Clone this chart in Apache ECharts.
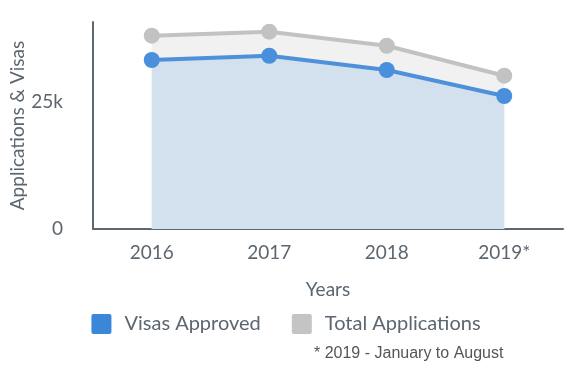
<!DOCTYPE html>
<html><head><meta charset="utf-8">
<script src="https://cdn.jsdelivr.net/npm/echarts@6/dist/echarts.min.js"></script>
<style>html,body{margin:0;padding:0;background:#fff}#c{width:572px;height:366px}</style>
</head><body><div id="c"></div>
<script>
const categories = ['2016', '2017', '2018', '2019*'];
const totalApplications = [38050, 38840, 36080, 30180];
const visasApproved = [33270, 34110, 31300, 26180];
const yTicks = [0, 25000];

const txt = '#5b6670';
const chart = echarts.init(document.getElementById('c'), null, {renderer: 'canvas'});
chart.setOption({
  animation: false,
  grid: {left: 93, right: 9, top: 22, bottom: 137, containLabel: false, outerBoundsMode: 'none'},
  legend: {
    data: [{name: 'Visas Approved', itemStyle: {color: '#3a86d8'}}, {name: 'Total Applications', itemStyle: {color: '#c4c4c4'}}],
    top: 309, left: 'center', icon: 'path://M2,0 H18 Q20,0 20,2 V18 Q20,20 18,20 H2 Q0,20 0,18 V2 Q0,0 2,0 Z',
    itemWidth: 20, itemHeight: 20, itemGap: 31,
    textStyle: {fontFamily: 'Lato', fontSize: 20, color: txt, padding: [0, 0, 0, 8]}
  },
  xAxis: {
    type: 'category', data: categories, boundaryGap: true,
    name: 'Years', nameLocation: 'middle', nameGap: 51, nameMoveOverlap: false,
    nameTextStyle: {fontFamily: 'Lato', fontSize: 19, color: txt},
    axisLine: {lineStyle: {color: '#5f676f', width: 2}},
    axisTick: {show: false},
    axisLabel: {fontFamily: 'Lato', fontSize: 19, color: txt, margin: 14}
  },
  yAxis: {
    type: 'value', min: 0, max: 40750, interval: 25000,
    name: 'Applications & Visas', nameLocation: 'middle', nameGap: 66, nameMoveOverlap: false,
    nameTextStyle: {fontFamily: 'Lato', fontSize: 19, color: txt},
    axisLine: {show: true, lineStyle: {color: '#5f676f', width: 2}},
    axisTick: {show: false},
    splitLine: {show: false},
    axisLabel: {fontFamily: 'Lato', fontSize: 19, color: txt, margin: 30, showMaxLabel: false,
      formatter: v => yTicks.includes(v) ? (v === 0 ? '0' : (v / 1000) + 'k') : ''}
  },
  series: [
    {name: 'Total Applications', type: 'line', data: totalApplications, symbol: 'circle', symbolSize: 16,
     lineStyle: {color: '#c2c2c2', width: 4}, itemStyle: {color: '#c2c2c2'},
     areaStyle: {color: '#f1f1f1', opacity: 1}, z: 2},
    {name: 'Visas Approved', type: 'line', data: visasApproved, symbol: 'circle', symbolSize: 16,
     lineStyle: {color: '#4e90da', width: 4}, itemStyle: {color: '#4a8fdb'},
     areaStyle: {color: '#d3e0ed', opacity: 1}, z: 3}
  ],
  graphic: [{type: 'text', left: 314, top: 346,
    style: {text: '* 2019 - January to August', font: '16px "Liberation Sans", Arial, sans-serif', fill: '#555'}}]
});
</script></body></html>
